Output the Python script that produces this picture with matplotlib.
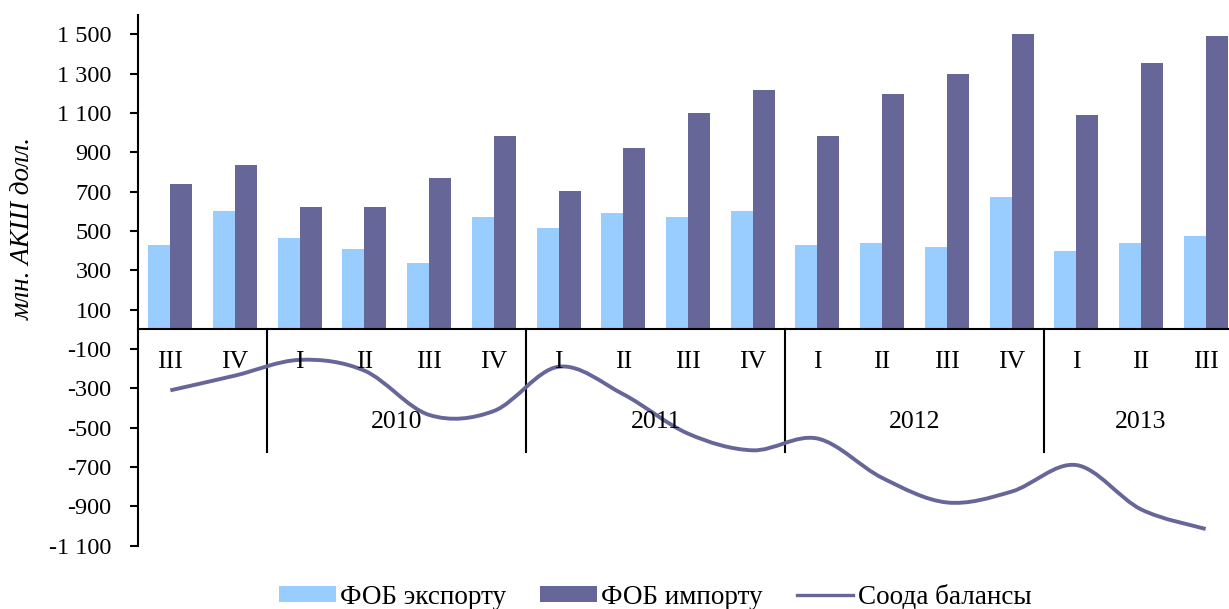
import numpy as np
import matplotlib
matplotlib.use("Agg")
import matplotlib.pyplot as plt
from matplotlib.path import Path
from matplotlib.patches import PathPatch
from matplotlib.lines import Line2D
from matplotlib.ticker import FuncFormatter

plt.rcParams['font.family'] = ['Liberation Serif', 'DejaVu Serif']

quarters = ["III", "IV", "I", "II", "III", "IV", "I", "II", "III", "IV",
            "I", "II", "III", "IV", "I", "II", "III"]
years = ["2010", "2011", "2012", "2013"]
year_start = [2, 6, 10, 14]
year_end = [6, 10, 14, 17]
export = [430, 600, 465, 410, 335, 570, 515, 590, 570, 600,
          430, 440, 420, 675, 400, 440, 475]
imports = [740, 835, 620, 620, 770, 985, 705, 920, 1100, 1215,
           985, 1195, 1300, 1500, 1090, 1355, 1490]
balance = [-310, -235, -155, -210, -435, -415, -190, -330, -530, -615,
           -555, -755, -880, -825, -690, -915, -1015]

c_exp = "#99CCFF"
c_imp = "#666699"

fig = plt.figure(figsize=(12.29, 6.09), dpi=100)
ax = fig.add_axes([138 / 1229, 1 - 545.7 / 609, 1100 / 1229, 531 / 609])

x = np.arange(len(quarters))
w = 0.34
b1 = ax.bar(x - w / 2, export, w, color=c_exp, label="ФОБ экспорту")
b2 = ax.bar(x + w / 2, imports, w, color=c_imp, label="ФОБ импорту")

# smoothed line like excel (bezier through the points)
pts = np.column_stack([x, balance]).astype(float)
n = len(pts)
verts = [pts[0]]
codes = [Path.MOVETO]
for i in range(n - 1):
    p0 = pts[i - 1] if i > 0 else pts[i]
    p1 = pts[i]
    p2 = pts[i + 1]
    p3 = pts[i + 2] if i + 2 < n else pts[i + 1]
    verts += [p1 + (p2 - p0) / 6, p2 - (p3 - p1) / 6, p2]
    codes += [Path.CURVE4] * 3
ax.add_patch(PathPatch(Path(verts, codes), fill=False, edgecolor=c_imp,
                       lw=2.8, capstyle='butt', zorder=3))

ax.set_xlim(-0.5, len(quarters) - 0.5)
ax.set_ylim(-1100, 1600)
ax.set_yticks(np.arange(-1100, 1501, 200))
ax.yaxis.set_major_formatter(FuncFormatter(lambda v, p: f"{v:,.0f}".replace(",", " ")))
ax.tick_params(axis='y', direction='out', length=6, width=1.5, pad=13, labelsize=17.5)
ax.set_xticks([])

ax.spines['top'].set_visible(False)
ax.spines['right'].set_visible(False)
ax.spines['bottom'].set_position(('data', 0))
ax.spines['left'].set_linewidth(1.5)
ax.spines['bottom'].set_linewidth(1.5)

for xi, q in zip(x, quarters):
    ax.text(xi, -168, q, ha='center', va='center', fontsize=18.5)

for s in year_start:
    ax.plot([s - 0.5, s - 0.5], [0, -625], color='black', lw=1.5, clip_on=False)
for y, s, e in zip(years, year_start, year_end):
    ax.text((s + e - 1) / 2, -473, y, ha='center', va='center', fontsize=18.5)

fig.text(23 / 1229, 1 - 229 / 609, "млн. АКШ долл.", rotation=90, style='italic',
         ha='center', va='center', fontsize=19.5)

line_h = Line2D([], [], color=c_imp, lw=2.4)
fig.legend([b1, b2, line_h], ["ФОБ экспорту", "ФОБ импорту", "Соода балансы"],
           loc='center', bbox_to_anchor=(655 / 1229, 1 - 597 / 609), ncol=3,
           frameon=False, fontsize=19.5, handlelength=2.1, handleheight=0.56,
           columnspacing=1.25, handletextpad=0.16, borderpad=0.2)

fig.savefig("out.png", dpi=100)
